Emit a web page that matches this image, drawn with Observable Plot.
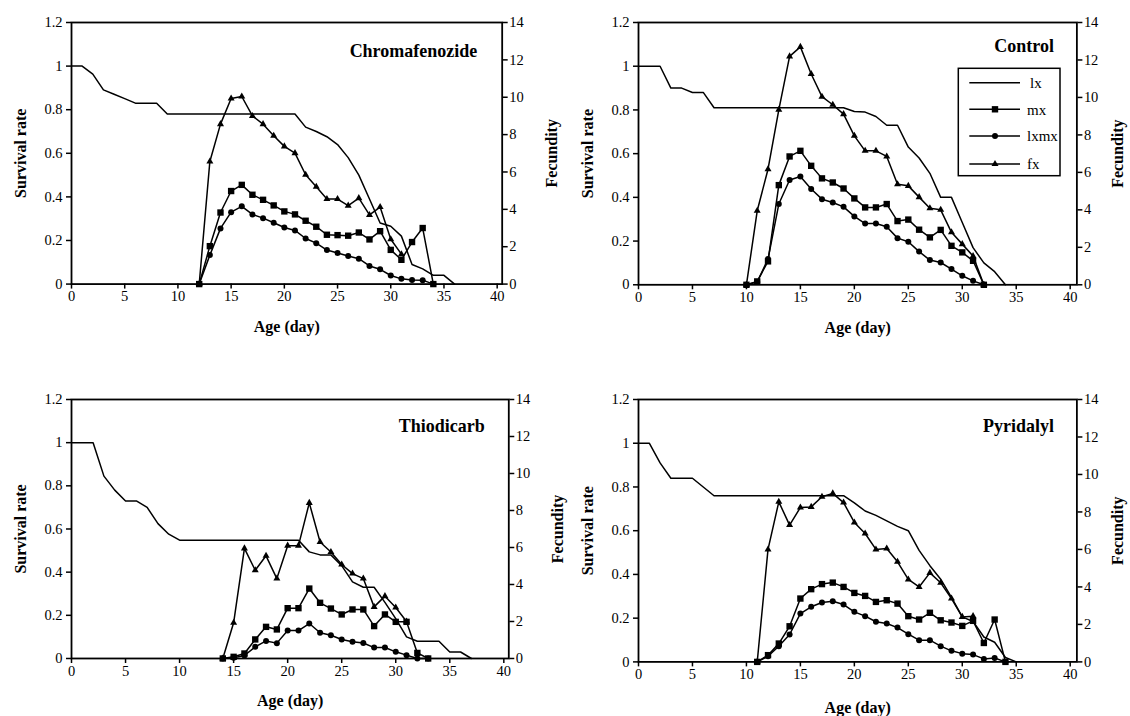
<!DOCTYPE html>
<html>
<head>
<meta charset="utf-8">
<script src="https://cdn.jsdelivr.net/npm/d3@7"></script>
<script src="https://cdn.jsdelivr.net/npm/@observablehq/plot@0.6"></script>
<style>
  html, body { margin: 0; padding: 0; background: #fff; overflow: hidden; }
  #wrap { position: relative; width: 1130px; height: 716px; font-family: "Liberation Serif", "Times New Roman", serif; }
  #wrap svg { position: absolute; overflow: visible; }
</style>
</head>
<body>
<div id="wrap"></div>
<script>
// ---------------- data ----------------
const panelNames = ["Chromafenozide", "Control", "Thiodicarb", "Pyridalyl"];
const ageTicks = [0, 5, 10, 15, 20, 25, 30, 35, 40];
const survivalTicks = [0, 0.2, 0.4, 0.6, 0.8, 1, 1.2];
const fecundityTicks = [0, 2, 4, 6, 8, 10, 12, 14];
const legendLabels = ["lx", "mx", "lxmx", "fx"];

// Chromafenozide (lx from day 0; mx, lxmx, fx from day 12)
const chromaLx = [1, 1, 0.963, 0.891, 0.871, 0.851, 0.83, 0.83, 0.83, 0.78, 0.78, 0.78, 0.78, 0.78, 0.78, 0.78, 0.78, 0.78, 0.78, 0.78, 0.78, 0.78, 0.72, 0.70, 0.676, 0.64, 0.58, 0.50, 0.39, 0.28, 0.265, 0.22, 0.09, 0.07, 0.04, 0.04, 0];
const chromaStart = 12;
const chromaMx = [0, 2.03, 3.83, 4.98, 5.31, 4.78, 4.51, 4.21, 3.89, 3.73, 3.39, 3.07, 2.64, 2.62, 2.59, 2.76, 2.39, 2.83, 1.83, 1.3, 2.25, 3.0, 0];
const chromaLxmx = [0, 1.55, 2.98, 3.85, 4.16, 3.73, 3.53, 3.28, 3.03, 2.87, 2.44, 2.19, 1.82, 1.66, 1.5, 1.36, 0.97, 0.79, 0.46, 0.28, 0.22, 0.21, 0];
const chromaFx = [0, 6.56, 8.56, 9.93, 10.04, 9.0, 8.56, 7.94, 7.37, 7.01, 5.85, 5.21, 4.55, 4.55, 4.2, 4.6, 3.7, 4.12, 2.4, 1.6];

// Control (mx, lxmx, fx from day 10)
const controlLx = [1, 1, 1, 0.90, 0.90, 0.88, 0.88, 0.81, 0.81, 0.81, 0.81, 0.81, 0.81, 0.81, 0.81, 0.81, 0.81, 0.81, 0.81, 0.81, 0.793, 0.79, 0.77, 0.73, 0.73, 0.63, 0.58, 0.51, 0.40, 0.40, 0.285, 0.17, 0.10, 0.06, 0];
const controlStart = 10;
const controlMx = [0, 0.18, 1.25, 5.32, 6.85, 7.15, 6.35, 5.68, 5.46, 5.14, 4.61, 4.13, 4.13, 4.31, 3.4, 3.48, 2.94, 2.53, 2.93, 2.08, 1.73, 1.28, 0];
const controlLxmx = [0, 0.15, 1.37, 4.31, 5.59, 5.78, 5.11, 4.57, 4.39, 4.16, 3.65, 3.27, 3.27, 3.10, 2.49, 2.3, 1.77, 1.32, 1.19, 0.84, 0.48, 0.21, 0];
const controlFx = [0, 3.95, 6.17, 9.34, 12.19, 12.7, 11.25, 10.04, 9.61, 9.11, 7.95, 7.15, 7.15, 6.85, 5.37, 5.28, 4.68, 4.08, 4.0, 2.8, 2.17, 1.53, 0];

// Thiodicarb (mx, lxmx, fx from day 14)
const thioLx = [1, 1, 1, 0.845, 0.78, 0.73, 0.73, 0.70, 0.625, 0.576, 0.548, 0.548, 0.548, 0.548, 0.548, 0.548, 0.548, 0.548, 0.548, 0.548, 0.548, 0.548, 0.494, 0.48, 0.48, 0.43, 0.355, 0.33, 0.33, 0.26, 0.185, 0.10, 0.08, 0.08, 0.08, 0.03, 0.03, 0];
const thioStart = 14;
const thioMx = [0, 0.09, 0.27, 1.03, 1.71, 1.57, 2.72, 2.72, 3.78, 3.01, 2.70, 2.38, 2.65, 2.65, 1.75, 2.38, 1.98, 1.98, 0.3, 0];
const thioLxmx = [0, 0.04, 0.16, 0.63, 0.95, 0.83, 1.51, 1.51, 1.89, 1.39, 1.26, 1.03, 0.9, 0.84, 0.59, 0.59, 0.36, 0.18, 0, 0];
const thioFx = [0, 1.93, 5.95, 4.77, 5.55, 4.32, 6.1, 6.1, 8.41, 6.3, 5.76, 5.08, 4.59, 4.32, 2.79, 3.37, 2.76, 2.0];

// Pyridalyl (mx, lxmx, fx from day 11)
const pyriLx = [1, 1, 0.91, 0.84, 0.84, 0.84, 0.80, 0.76, 0.76, 0.76, 0.76, 0.76, 0.76, 0.76, 0.76, 0.76, 0.76, 0.76, 0.76, 0.76, 0.727, 0.69, 0.67, 0.645, 0.62, 0.60, 0.51, 0.44, 0.378, 0.295, 0.206, 0.185, 0.114, 0.09, 0.02, 0];
const pyriStart = 11;
const pyriMx = [0, 0.36, 0.98, 1.9, 3.38, 3.88, 4.15, 4.23, 4.0, 3.68, 3.52, 3.2, 3.29, 3.11, 2.44, 2.26, 2.62, 2.22, 2.1, 1.92, 2.19, 1.01, 2.26, 0];
const pyriLxmx = [0, 0.3, 0.84, 1.46, 2.58, 2.94, 3.17, 3.24, 3.06, 2.67, 2.44, 2.14, 2.05, 1.83, 1.48, 1.16, 1.16, 0.84, 0.59, 0.44, 0.39, 0.16, 0.21, 0];
const pyriFx = [0, 6.0, 8.54, 7.30, 8.24, 8.27, 8.81, 8.99, 8.5, 7.44, 6.85, 6.0, 6.05, 5.34, 4.4, 4.0, 4.75, 4.22, 3.38, 2.4, 2.44];

const panels = [
  {name: panelNames[0], lx: chromaLx, start: chromaStart, mx: chromaMx, lxmx: chromaLxmx, fx: chromaFx},
  {name: panelNames[1], lx: controlLx, start: controlStart, mx: controlMx, lxmx: controlLxmx, fx: controlFx},
  {name: panelNames[2], lx: thioLx, start: thioStart, mx: thioMx, lxmx: thioLxmx, fx: thioFx},
  {name: panelNames[3], lx: pyriLx, start: pyriStart, mx: pyriMx, lxmx: pyriLxmx, fx: pyriFx}
];

// ---------------- layout ----------------
const layouts = [
  {x0: 71, top: 21.7, w: 430.7, h: 261.6, xMax: 40.47, mR: 62, titleDx: -25, titleDy: 29, ageDy: 43, fecDx: 50, survDx: 51},
  {x0: 638.3, top: 21.7, w: 438.4, h: 262.3, xMax: 40.62, mR: 52, titleDx: -23, titleDy: 24, ageDy: 43, fecDx: 41, survDx: 51},
  {x0: 71, top: 399.3, w: 437.3, h: 259, xMax: 40.46, mR: 62, titleDx: -24, titleDy: 27, ageDy: 42, fecDx: 49, survDx: 51},
  {x0: 638.3, top: 399.3, w: 438.4, h: 262.4, xMax: 40.62, mR: 52, titleDx: -23, titleDy: 27, ageDy: 46, fecDx: 41, survDx: 51}
];

const K = 14 / 1.2; // survival -> fecundity axis units
const FONT = "Liberation Serif, Times New Roman, serif";
const wrap = document.getElementById("wrap");

function series(start, arr) { return arr.map((v, i) => ({day: start + i, v})); }

panels.forEach((p, idx) => {
  const L = layouts[idx];
  const mL = 70, mT = 20, mB = 56;
  const lxData = p.lx.map((v, i) => ({day: i, v: v * K}));
  const mx = series(p.start, p.mx);
  const lxmx = series(p.start, p.lxmx);
  const fx = series(p.start, p.fx);
  const lineOpts = {x: "day", y: "v", stroke: "black", strokeWidth: 1.5};
  const chart = Plot.plot({
    width: mL + L.w + L.mR,
    height: mT + L.h + mB,
    marginLeft: mL, marginRight: L.mR, marginTop: mT, marginBottom: mB,
    style: {fontFamily: FONT, fontSize: "14.5px", color: "black", background: "transparent", overflow: "visible"},
    x: {domain: [0, L.xMax]},
    y: {domain: [0, 14]},
    marks: [
      Plot.frame({stroke: "black", strokeWidth: 1.8}),
      Plot.axisX({ticks: ageTicks, tickSize: 5, tickPadding: 2, label: null, strokeWidth: 1.5}),
      Plot.axisY({anchor: "left", ticks: survivalTicks.map(v => v * K), tickFormat: d => String(+(d / K).toFixed(1)), tickSize: 5, tickPadding: 4, label: null, strokeWidth: 1.5}),
      Plot.axisY({anchor: "right", ticks: fecundityTicks, tickSize: 5, tickPadding: 2, label: null, strokeWidth: 1.5}),
      Plot.line(lxData, lineOpts),
      Plot.line(fx, lineOpts),
      Plot.line(mx, lineOpts),
      Plot.line(lxmx, lineOpts),
      Plot.dot(fx, {x: "day", y: "v", symbol: "triangle", fill: "black", r: 2.6}),
      Plot.dot(mx, {x: "day", y: "v", symbol: "square", fill: "black", r: 3.6}),
      Plot.dot(lxmx, {x: "day", y: "v", symbol: "circle", fill: "black", r: 3.0}),
      Plot.text([p.name], {frameAnchor: "top-right", dx: L.titleDx, dy: L.titleDy, textAnchor: "end", lineAnchor: "middle", fontWeight: "bold", fontSize: 18}),
      Plot.text(["Survival rate"], {frameAnchor: "left", rotate: -90, dx: -L.survDx, textAnchor: "middle", lineAnchor: "middle", fontWeight: "bold", fontSize: 16}),
      Plot.text(["Fecundity"], {frameAnchor: "right", rotate: -90, dx: L.fecDx, textAnchor: "middle", lineAnchor: "middle", fontWeight: "bold", fontSize: 16}),
      Plot.text(["Age (day)"], {frameAnchor: "bottom", dy: L.ageDy, textAnchor: "middle", lineAnchor: "middle", fontWeight: "bold", fontSize: 16})
    ]
  });
  chart.style.left = (L.x0 - mL) + "px";
  chart.style.top = (L.top - mT) + "px";
  wrap.appendChild(chart);
});

// ---------------- legend (Control panel) ----------------
const leg = d3.select(wrap).append("svg")
  .attr("width", 1130).attr("height", 716)
  .style("left", "0px").style("top", "0px").style("pointer-events", "none");
leg.append("rect").attr("x", 958.3).attr("y", 68.3).attr("width", 101.7).attr("height", 107.4)
  .attr("fill", "white").attr("stroke", "black").attr("stroke-width", 1.5);
const legY = [82.7, 109.3, 136, 164];
const legSym = [null, d3.symbolSquare, d3.symbolCircle, d3.symbolTriangle];
const legSize = [0, 40.7, 28.3, 21.2];
legendLabels.forEach((lab, i) => {
  leg.append("line").attr("x1", 969.3).attr("x2", 1020).attr("y1", legY[i]).attr("y2", legY[i])
    .attr("stroke", "black").attr("stroke-width", 1.5);
  if (legSym[i]) {
    leg.append("path").attr("d", d3.symbol(legSym[i], legSize[i])())
      .attr("transform", `translate(995,${legY[i]})`).attr("fill", "black");
  }
  leg.append("text").attr("x", i === 0 ? 1030 : 1027).attr("y", legY[i]).attr("dy", "0.35em")
    .attr("font-family", FONT).attr("font-size", 15).attr("fill", "black").text(lab);
});
</script>
</body>
</html>
